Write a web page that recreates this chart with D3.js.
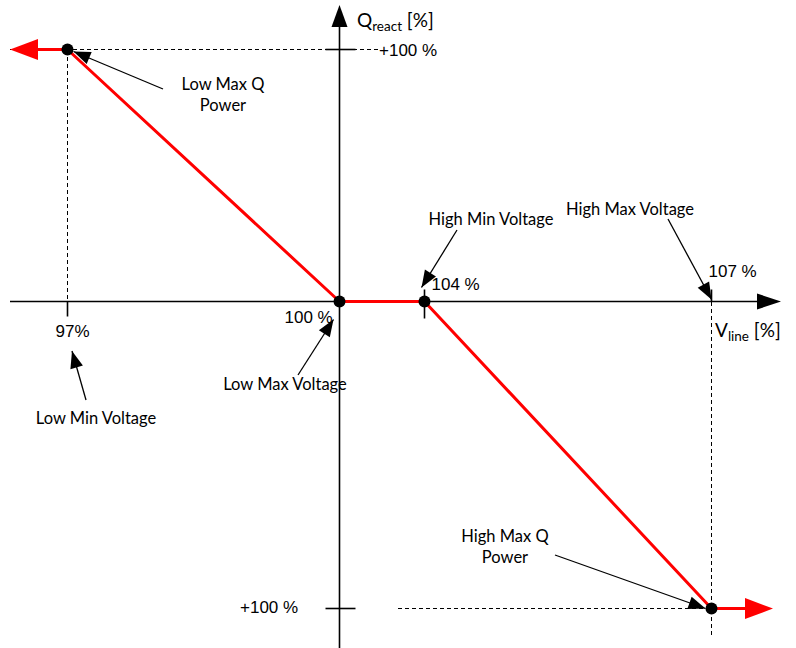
<!DOCTYPE html>
<html><head><meta charset="utf-8">
<script src="https://cdn.jsdelivr.net/npm/d3@7"></script>
<style>html,body{margin:0;padding:0;background:#fff}svg{display:block}</style>
</head><body><svg id="c" width="796" height="648"></svg>
<script>
// ---- data ----
const voltageBreaks = [97, 100, 104, 107];      // V_line [%]
const qBreaks = [100, 0, -100];                  // Q_react [%]
const curveV = [97, 100, 104, 107];
const curveQ = [100, 0, 0, -100];
const xTickLabels = ["97%", "100 %", "104 %", "107 %"];
const yTickLabels = ["+100 %", "+100 %"];
const annotationNames = ["Low Max Q\nPower", "Low Min Voltage", "Low Max Voltage", "High Min Voltage", "High Max Voltage", "High Max Q\nPower"];

const svg = d3.select("#c");
const W = 796, H = 648;
// schematic (piecewise) scales
const x = d3.scaleLinear().domain(voltageBreaks).range([67.5, 339.5, 424.5, 711.5]);
const y = d3.scaleLinear().domain(qBreaks).range([49.5, 301.5, 608.5]);
const x0 = x(100), y0 = y(0);
const numFont = "'Liberation Sans', Arial, sans-serif";
const txtFont = "Lato, 'Open Sans', sans-serif";

function tri(g, tipX, tipY, fromX, fromY, len, hw, color) {
  const a = Math.atan2(tipY - fromY, tipX - fromX);
  const bx = tipX - len * Math.cos(a), by = tipY - len * Math.sin(a);
  const px = -Math.sin(a) * hw, py = Math.cos(a) * hw;
  g.append("path").attr("d", `M${tipX},${tipY}L${bx + px},${by + py}L${bx - px},${by - py}Z`).attr("fill", color);
}

// dashed guides
const dash = svg.append("g").attr("stroke", "#000").attr("stroke-width", 1).attr("stroke-dasharray", "4,3")
  .attr("fill", "none").attr("shape-rendering", "crispEdges");
dash.append("line").attr("x1", 10).attr("x2", 380).attr("y1", y(100)).attr("y2", y(100));
dash.append("line").attr("x1", x(97)).attr("x2", x(97)).attr("y1", y(100)).attr("y2", y0);
dash.append("line").attr("x1", 398).attr("x2", x(107)).attr("y1", y(-100)).attr("y2", y(-100));
dash.append("line").attr("x1", x(107)).attr("x2", x(107)).attr("y1", y0).attr("y2", 636);

// axes
const ax = svg.append("g").attr("stroke", "#000").attr("stroke-width", 1.6);
ax.append("line").attr("x1", 10).attr("x2", 760).attr("y1", y0).attr("y2", y0);
ax.append("line").attr("x1", x0).attr("x2", x0).attr("y1", 25).attr("y2", H);
tri(svg, 781, y0, 10, y0, 24, 8, "#000");
tri(svg, x0, 5, x0, H, 22, 8, "#000");
// ticks
ax.append("line").attr("x1", x0 - 14).attr("x2", x0 + 16).attr("y1", y(100)).attr("y2", y(100));
ax.append("line").attr("x1", x0 - 14).attr("x2", x0 + 16).attr("y1", y(-100)).attr("y2", y(-100));
ax.append("line").attr("x1", x(97)).attr("x2", x(97)).attr("y1", y0).attr("y2", y0 + 15);
ax.append("line").attr("x1", x(104)).attr("x2", x(104)).attr("y1", y0 - 12).attr("y2", y0 + 17);
ax.append("line").attr("x1", x(107)).attr("x2", x(107)).attr("y1", y0 - 12).attr("y2", y0);

// red curve
const pts = curveV.map((v, i) => [x(v), y(curveQ[i])]);
const red = "#ff0000";
const full = [[10 + 24, pts[0][1]], ...pts, [773 - 24, pts[3][1]]];
svg.append("path").attr("d", d3.line()(full)).attr("fill", "none").attr("stroke", red).attr("stroke-width", 3).attr("stroke-linejoin", "round");
tri(svg, 10, pts[0][1], pts[0][0], pts[0][1], 28, 10.5, red);
tri(svg, 773, pts[3][1], pts[3][0], pts[3][1], 28, 10.5, red);
svg.append("g").selectAll("circle").data(pts).join("circle")
  .attr("cx", d => d[0]).attr("cy", d => d[1]).attr("r", 6).attr("fill", "#000");

// axis titles
const qt = svg.append("text").attr("x", 357).attr("y", 27).attr("font-family", txtFont).attr("font-size", 19).attr("fill", "#000");
qt.append("tspan").text("Q");
qt.append("tspan").attr("font-size", 13.5).attr("dy", 4).text("react");
qt.append("tspan").attr("dy", -4).text(" [%]");
const vt = svg.append("text").attr("x", 715).attr("y", 337).attr("font-family", txtFont).attr("font-size", 19).attr("fill", "#000");
vt.append("tspan").text("V");
vt.append("tspan").attr("font-size", 13.5).attr("dy", 4).text("line");
vt.append("tspan").attr("dy", -4).text(" [%]");

// tick labels
const num = svg.append("g").attr("font-family", numFont).attr("font-size", 17).attr("fill", "#000");
num.append("text").attr("x", x(97) - 12).attr("y", 337).text(xTickLabels[0]);
num.append("text").attr("x", x(100) - 55).attr("y", 323).text(xTickLabels[1]);
num.append("text").attr("x", x(104) + 7).attr("y", 290).text(xTickLabels[2]);
num.append("text").attr("x", x(107) - 3).attr("y", 277).text(xTickLabels[3]);
num.append("text").attr("x", 379).attr("y", 56).text(yTickLabels[0]);
num.append("text").attr("x", 240).attr("y", 613).text(yTickLabels[1]);

// annotations
const ann = [
  {name: annotationNames[0], tx: 223, ty: 90, from: [163, 89], tip: [x(97) + 6, y(100) + 2]},
  {name: annotationNames[1], tx: 96, ty: 424, from: [86, 400], tip: [72, 351]},
  {name: annotationNames[2], tx: 285, ty: 390, from: [298, 375], tip: [x(100) - 6, y0 + 18]},
  {name: annotationNames[3], tx: 491, ty: 225, from: [457, 230], tip: [x(104) - 3, y0 - 14]},
  {name: annotationNames[4], tx: 630, ty: 215, from: [668, 219], tip: [x(107), y0 - 2]},
  {name: annotationNames[5], tx: 505, ty: 542, from: [555, 555], tip: [x(107) - 6, y(-100)]}
];
const ag = svg.append("g");
ann.forEach(a => {
  ag.append("line").attr("x1", a.from[0]).attr("y1", a.from[1]).attr("x2", a.tip[0]).attr("y2", a.tip[1])
    .attr("stroke", "#000").attr("stroke-width", 1.3);
  tri(ag, a.tip[0], a.tip[1], a.from[0], a.from[1], 17, 6.5, "#000");
  const t = ag.append("text").attr("font-family", txtFont).attr("font-size", 16.5).attr("text-anchor", "middle").attr("fill", "#000");
  a.name.split("\n").forEach((s, i) => t.append("tspan").attr("x", a.tx).attr("y", a.ty + i * 21).text(s));
});
</script></body></html>
